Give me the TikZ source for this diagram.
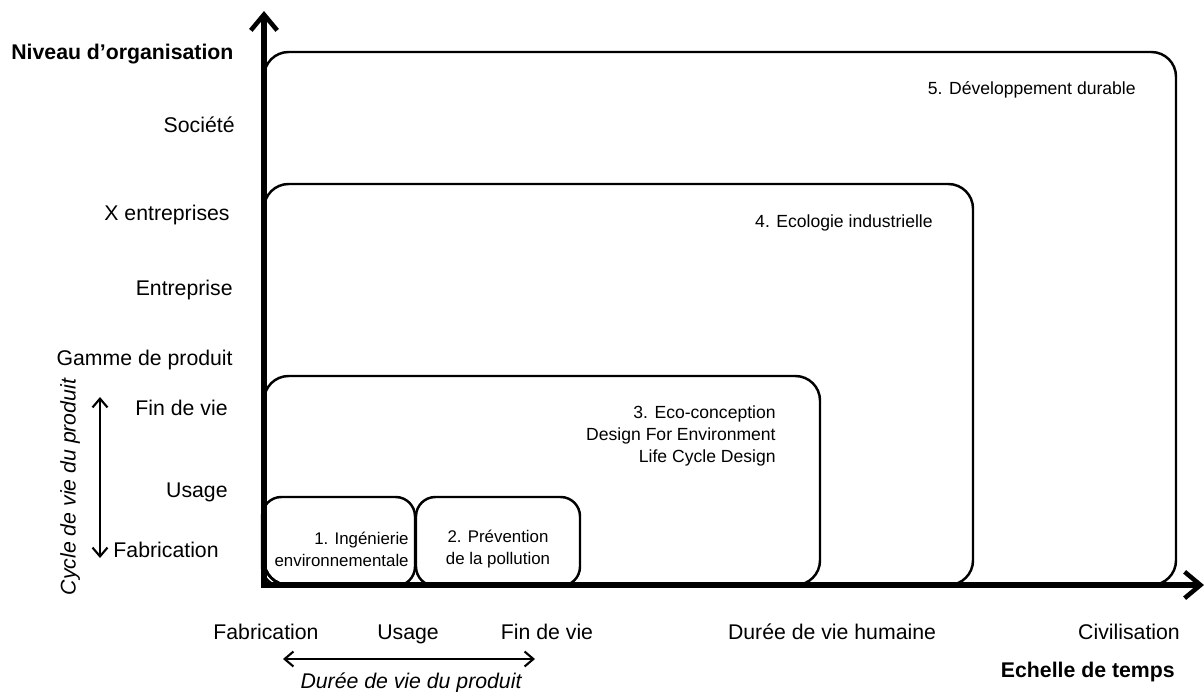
\documentclass[tikz,border=0pt]{standalone}
\usepackage{fontspec}
\setmainfont{Liberation Sans}
\usetikzlibrary{arrows.meta}
\begin{document}
\begin{tikzpicture}[x=0.02cm,y=-0.02cm,
  lab/.style={font=\fontsize{12.1}{14}\selectfont, inner sep=0pt, text height=8.7pt, text depth=0pt},
  blab/.style={font=\fontsize{10}{12.5}\selectfont, inner sep=0pt, align=right},
  zone/.style={draw, line width=1.4pt, rounded corners=14pt},
  smallzone/.style={draw, line width=1.4pt, rounded corners=11pt},
  axis/.style={line width=3.1pt, -{Straight Barb[length=9pt,width=15pt,line width=2.6pt]}},
  span/.style={line width=1.2pt, {Straight Barb[length=5pt,width=8.5pt]}-{Straight Barb[length=5pt,width=8.5pt]}}]
\useasboundingbox (0,0) rectangle (1204,691);

% zones
\draw[zone] (264,52) rectangle (1176,585);
\draw[zone] (264,184) rectangle (973,585);
\draw[zone] (264,376) rectangle (820,585);
\draw[smallzone] (262,497) rectangle (415,586);
\draw[smallzone] (416,497) rectangle (580,586);

% zone labels
\node[blab, anchor=east] (z5) at (1136,90) {5. Développement durable};
\node[blab, anchor=east] (z4) at (933,223) {4. Ecologie industrielle};
\node[blab, anchor=east] (z3) at (776,436) {3. Eco-conception\\Design For Environment\\Life Cycle Design};
\node[blab, anchor=east, font=\fontsize{9.6}{12.6}\selectfont] (z1) at (409,549) {1. Ingénierie\\environnementale};
\node[blab, align=center, font=\fontsize{9.6}{12.6}\selectfont] (z2) at (498,549) {2. Prévention\\de la pollution};

% axes
\coordinate (O) at (264,588);
\coordinate (ytop) at (264,11);
\coordinate (xo) at (261,585);
\coordinate (xend) at (1204,585);
\draw[axis] (O) -- (ytop);
\draw[axis] (xo) -- (xend);

% vertical axis labels
\node[lab, anchor=west, font=\bfseries\fontsize{12.1}{14}\selectfont] (nv) at (11,52) {Niveau d’organisation};
\node[lab, anchor=east] (soc) at (235,125) {Société};
\node[lab, anchor=east] (xent) at (230,213) {X entreprises};
\node[lab, anchor=east] (ent) at (233,288) {Entreprise};
\node[lab, anchor=east] (gam) at (233,358) {Gamme de produit};
\node[lab, anchor=east] (fdv) at (228,408) {Fin de vie};
\node[lab, anchor=east] (usa) at (228,490) {Usage};
\node[lab, anchor=east] (fab) at (219,550) {Fabrication};
\coordinate (cy1) at (100,397);
\coordinate (cy2) at (100,558);
\draw[span] (cy2) -- (cy1);
\node[lab, rotate=90, font=\itshape\fontsize{12.1}{14}\selectfont] (cyc) at (68,487) {Cycle de vie du produit};

% horizontal axis labels
\node[lab] (hfab) at (266,632) {Fabrication};
\node[lab] (husa) at (408,632) {Usage};
\node[lab] (hfdv) at (547,632) {Fin de vie};
\node[lab] (hdvh) at (832,632) {Durée de vie humaine};
\node[lab] (hciv) at (1129,632) {Civilisation};
\node[lab, anchor=east, font=\bfseries\fontsize{12.1}{14}\selectfont] (ech) at (1175,670) {Echelle de temps};
\coordinate (dv1) at (283,659);
\coordinate (dv2) at (535,659);
\draw[span] (dv1) -- (dv2);
\node[lab, font=\itshape\fontsize{12.1}{14}\selectfont] (dvp) at (411,681) {Durée de vie du produit};
\end{tikzpicture}
\end{document}
